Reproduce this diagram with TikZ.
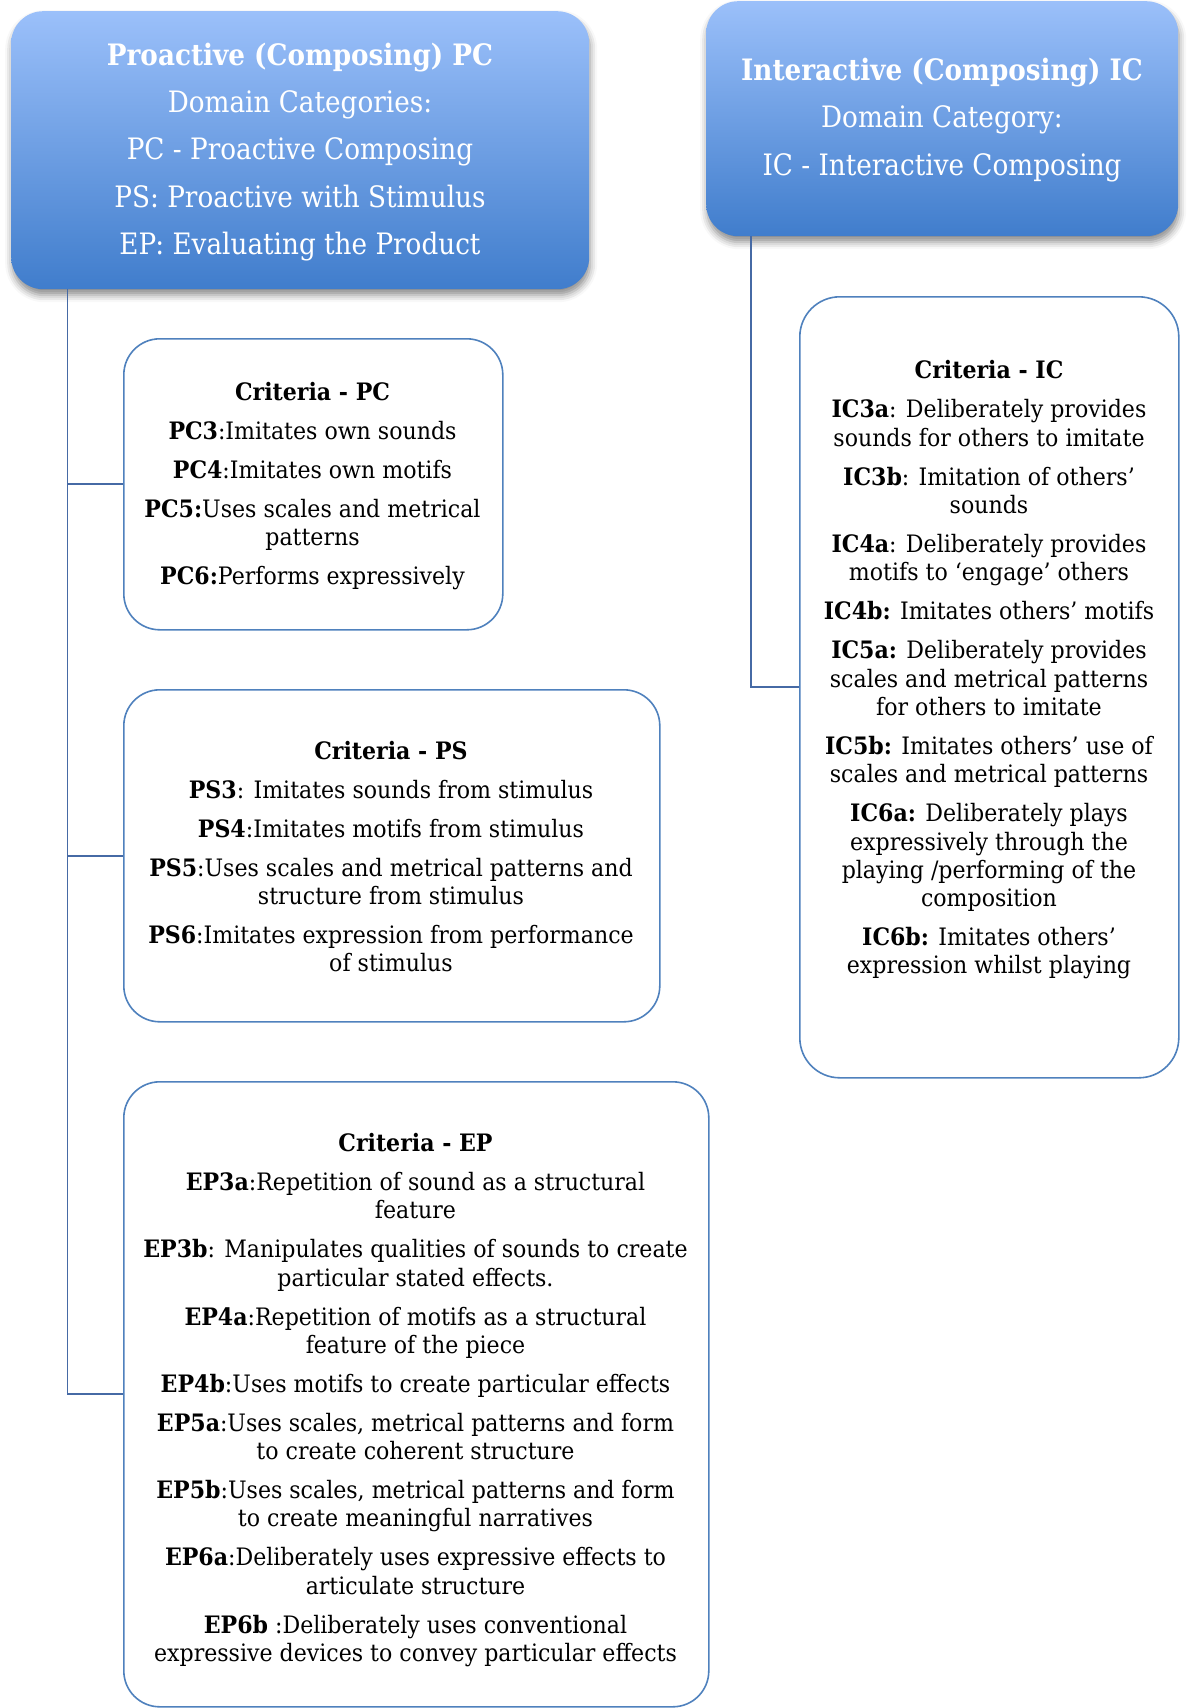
\documentclass[tikz,border=0pt]{standalone}
\usepackage{fontspec}
\setmainfont{DejaVu Serif}[FakeStretch=0.92]
\newfontfamily\hdrfont{DejaVu Serif}[FakeStretch=0.89]
\usetikzlibrary{shadows.blur}
\definecolor{hdrtop}{RGB}{155,192,250}
\definecolor{hdrbot}{RGB}{64,125,204}
\definecolor{boxline}{RGB}{79,129,189}
\definecolor{linkline}{RGB}{70,106,165}
\newcommand{\gap}{\\[10.7pt]}
\begin{document}
\begin{tikzpicture}[x=1pt,y=-1pt,
  header/.style={rectangle, rounded corners=32pt, top color=hdrtop, bottom color=hdrbot,
    draw=none, anchor=north west,
    blur shadow={shadow xshift=1pt, shadow yshift=-6pt, shadow blur radius=7pt, shadow opacity=45}},
  critbox/.style={rectangle, draw=boxline, line width=1.6pt, rounded corners=36pt,
    fill=white, anchor=north west},
  crittext/.style={align=center, inner sep=0pt, text=black,
    font=\fontsize{24}{28.3}\selectfont},
  hdrtext/.style={align=center, inner sep=0pt, text=white,
    font=\hdrfont\fontsize{29.5}{47.2}\selectfont},
  link/.style={draw=linkline, line width=1.7pt}]

\useasboundingbox (0,0) rectangle (1188,1708);

% criteria boxes
\node[critbox, minimum width=379pt, minimum height=291pt] (critpc) at (123,338) {};
\node[critbox, minimum width=536pt, minimum height=332pt] (critps) at (123,689) {};
\node[critbox, minimum width=585pt, minimum height=625pt] (critep) at (123,1081) {};
\node[critbox, minimum width=379pt, minimum height=781pt, rounded corners=40pt] (critic) at (799,296) {};

% header boxes
\node[header, minimum width=578pt, minimum height=278pt] (hpc) at (11,11) {};
\node[header, minimum width=472pt, minimum height=235pt] (hic) at (706,1) {};

% connectors from the headers to the criteria boxes
\path (hpc.south west) ++(56.5,0) coordinate (pcroot);
\path (hic.south west) ++(45,0) coordinate (icroot);
\draw[link] (pcroot) |- (critpc.west);
\draw[link] (pcroot) |- (critps.west);
\draw[link] (pcroot) |- (critep.west);
\draw[link] (icroot) |- (critic.west);

% header texts
\node[hdrtext] (tpc) at (300,152) {\textbf{Proactive (Composing) PC}\\
  Domain Categories:\\
  PC - Proactive Composing\\
  PS: Proactive with Stimulus\\
  EP: Evaluating the Product};
\node[hdrtext] (tic) at (942,120) {\textbf{Interactive (Composing) IC}\\
  Domain Category:\\
  IC - Interactive Composing};

% criteria texts
\node[crittext] (tcpc) at (312.5,486) {\textbf{Criteria - PC}\gap
  \textbf{PC3}:Imitates own sounds\gap
  \textbf{PC4}:Imitates own motifs\gap
  \textbf{PC5:}Uses scales and metrical\\ patterns\gap
  \textbf{PC6:}Performs expressively};

\node[crittext] (tcps) at (391,856.5) {\textbf{Criteria - PS}\gap
  \textbf{PS3}: Imitates sounds from stimulus\gap
  \textbf{PS4}:Imitates motifs from stimulus\gap
  \textbf{PS5}:Uses scales and metrical patterns and\\ structure from stimulus\gap
  \textbf{PS6}:Imitates expression from performance\\ of stimulus};

\node[crittext] (tcep) at (415.5,1400) {\textbf{Criteria - EP}\gap
  \textbf{EP3a}:Repetition of sound as a structural\\ feature\gap
  \textbf{EP3b}: Manipulates qualities of sounds to create\\ particular stated effects.\gap
  \textbf{EP4a}:Repetition of motifs as a structural\\ feature of the piece\gap
  \textbf{EP4b}:Uses motifs to create particular effects\gap
  \textbf{EP5a}:Uses scales, metrical patterns and form\\ to create coherent structure\gap
  \textbf{EP5b}:Uses scales, metrical patterns and form\\ to create meaningful narratives\gap
  \textbf{EP6a}:Deliberately uses expressive effects to\\ articulate structure\gap
  \textbf{EP6b} :Deliberately uses conventional\\ expressive devices to convey particular effects};

\node[crittext] (tcic) at (989,670) {\textbf{Criteria - IC}\gap
  \textbf{IC3a}: Deliberately provides\\ sounds for others to imitate\gap
  \textbf{IC3b}: Imitation of others’\\ sounds\gap
  \textbf{IC4a}: Deliberately provides\\ motifs to ‘engage’ others\gap
  \textbf{IC4b:} Imitates others’ motifs\gap
  \textbf{IC5a:} Deliberately provides\\ scales and metrical patterns\\ for others to imitate\gap
  \textbf{IC5b:} Imitates others’ use of\\ scales and metrical patterns\gap
  \textbf{IC6a:} Deliberately plays\\ expressively through the\\ playing /performing of the\\ composition\gap
  \textbf{IC6b:} Imitates others’\\ expression whilst playing};
\end{tikzpicture}
\end{document}
